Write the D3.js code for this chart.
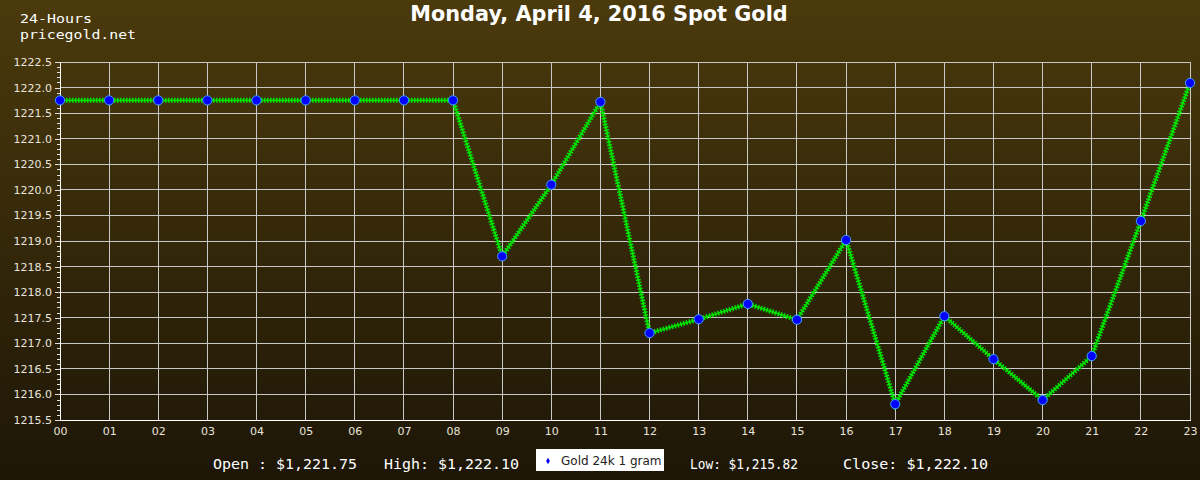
<!DOCTYPE html>
<html>
<head>
<meta charset="utf-8">
<script src="https://cdn.jsdelivr.net/npm/d3@7"></script>
<style>
html,body{margin:0;padding:0;background:#2a200a;}
svg{display:block;}
</style>
</head>
<body>
<svg id="chart" width="1200" height="480"></svg>
<script>
const hours = ["00","01","02","03","04","05","06","07","08","09","10","11","12","13","14","15","16","17","18","19","20","21","22","23"];
const prices = [1221.75,1221.75,1221.75,1221.75,1221.75,1221.75,1221.75,1221.75,1221.75,1218.70,1220.10,1221.72,1217.20,1217.47,1217.77,1217.46,1219.02,1215.81,1217.53,1216.69,1215.89,1216.75,1219.39,1222.09];
const yTicks = [1215.5,1216.0,1216.5,1217.0,1217.5,1218.0,1218.5,1219.0,1219.5,1220.0,1220.5,1221.0,1221.5,1222.0,1222.5];
const title = "Monday, April 4, 2016 Spot Gold";
const subtitle = ["24-Hours","pricegold.net"];
const summary = ["Open : $1,221.75","High: $1,222.10","Low: $1,215.82","Close: $1,222.10"];
const seriesName = "Gold 24k 1 gram";

const svg = d3.select("#chart");
const W = 1200, H = 480;
const m = {left:60, right:10, top:62, bottom:60};

const defs = svg.append("defs");
const grad = defs.append("linearGradient").attr("id","bg").attr("x1",0).attr("y1",0).attr("x2",0).attr("y2",1);
grad.append("stop").attr("offset","0%").attr("stop-color","#4b3a0c");
grad.append("stop").attr("offset","100%").attr("stop-color","#1d1607");
svg.append("rect").attr("width",W).attr("height",H).attr("fill","url(#bg)");

const x = d3.scalePoint().domain(hours).range([m.left, W - m.right]);
const y = d3.scaleLinear().domain([1215.5,1222.5]).range([H - m.bottom, m.top]);

// grid
const grid = svg.append("g").attr("stroke","#c8c8c8").attr("stroke-width",1).attr("shape-rendering","crispEdges");
grid.selectAll("line.h").data(yTicks).join("line")
  .attr("x1",m.left).attr("x2",W-m.right).attr("y1",d=>y(d)).attr("y2",d=>y(d));
grid.selectAll("line.v").data(hours).join("line")
  .attr("x1",d=>x(d)).attr("x2",d=>x(d)).attr("y1",m.top).attr("y2",H-m.bottom);

// left axis with minor ticks
const minor = d3.range(0,71).map(i=>1215.5+i*0.1);
const axL = svg.append("g").attr("transform",`translate(${m.left},0)`);
axL.call(d3.axisLeft(y).tickValues(minor).tickSize(3).tickFormat(""));
axL.select(".domain").remove();
axL.selectAll("line").attr("stroke","#e0e0e0").attr("shape-rendering","crispEdges");
const axL2 = svg.append("g").attr("transform",`translate(${m.left},0)`);
axL2.call(d3.axisLeft(y).tickValues(yTicks).tickSize(5).tickPadding(3).tickFormat(d3.format(".1f")));
axL2.select(".domain").attr("stroke","#ffffff").attr("shape-rendering","crispEdges");
axL2.selectAll("line").attr("stroke","#e0e0e0").attr("shape-rendering","crispEdges");
axL2.selectAll("text").attr("fill","#e8e4dc").attr("font-family","DejaVu Sans").attr("font-size",11);

// bottom axis
const axB = svg.append("g").attr("transform",`translate(0,${H-m.bottom})`);
axB.call(d3.axisBottom(x).tickSize(0).tickPadding(7));
axB.select(".domain").attr("stroke","#ffffff").attr("shape-rendering","crispEdges");
axB.selectAll("text").attr("fill","#e8e4dc").attr("font-family","DejaVu Sans").attr("font-size",11);

// line
const line = d3.line().x((d,i)=>x(hours[i])).y(d=>y(d));
svg.append("path").datum(prices).attr("d",line).attr("fill","none")
  .attr("stroke","#00dd00").attr("stroke-width",1.8);
svg.append("path").datum(prices).attr("d",line).attr("fill","none")
  .attr("stroke","#00e600").attr("stroke-width",5).attr("stroke-dasharray","1.5,1.5");

// markers
svg.append("g").selectAll("circle").data(prices).join("circle")
  .attr("cx",(d,i)=>x(hours[i])).attr("cy",d=>y(d)).attr("r",4.6)
  .attr("fill","#0000ff").attr("stroke","#3fa0ff").attr("stroke-width",1);

// title
svg.append("text").attr("x",599).attr("y",21).attr("text-anchor","middle")
  .attr("fill","#ffffff").attr("font-family","DejaVu Sans").attr("font-weight","bold").attr("font-size",20.8)
  .text(title);
const subW = [72,116];
svg.append("g").selectAll("text").data(subtitle).join("text")
  .attr("x",20).attr("y",(d,i)=>23+i*15.5)
  .attr("textLength",(d,i)=>subW[i]).attr("lengthAdjust","spacingAndGlyphs")
  .attr("fill","#ffffff").attr("font-family","DejaVu Sans Mono").attr("font-size",13)
  .text(d=>d);

// summary
const sumX = [213,384,690,843];
const sumW = [144,135,108,145];
svg.append("g").selectAll("text").data(summary).join("text")
  .attr("x",(d,i)=>sumX[i]).attr("y",469)
  .attr("textLength",(d,i)=>sumW[i]).attr("lengthAdjust","spacingAndGlyphs")
  .attr("fill","#ffffff").attr("font-family","DejaVu Sans Mono").attr("font-size",14)
  .text(d=>d);

// legend
const lg = svg.append("g");
lg.append("rect").attr("x",536).attr("y",449).attr("width",128).attr("height",22).attr("fill","#ffffff");
lg.append("path").attr("d",d3.symbol(d3.symbolDiamond,12)()).attr("transform","translate(548,461)").attr("fill","#0000ff");
lg.append("text").attr("x",561).attr("y",465).attr("fill","#222").attr("font-family","DejaVu Sans").attr("font-size",12).text(seriesName);
</script>
</body>
</html>
